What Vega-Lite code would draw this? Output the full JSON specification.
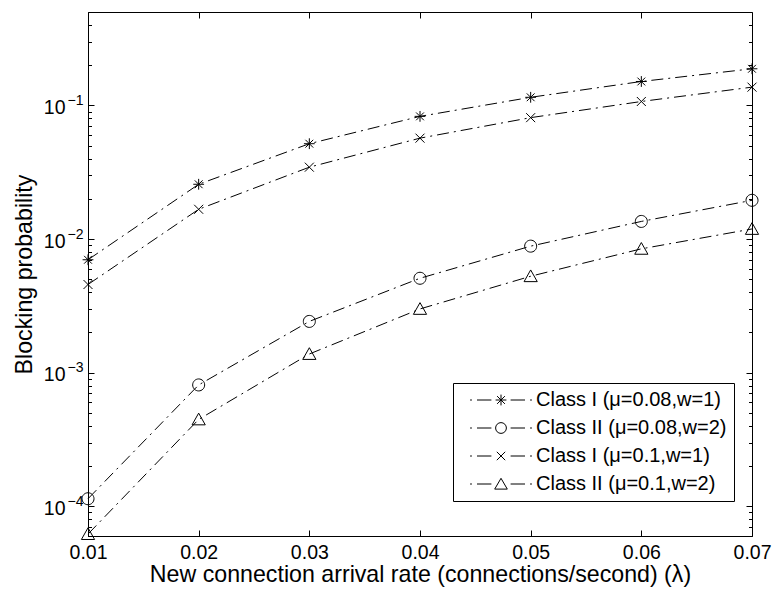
{
  "$schema": "https://vega.github.io/schema/vega-lite/v6.json",
  "width": 664,
  "height": 524,
  "autosize": {"type": "none"},
  "padding": {"left": 88, "top": 12, "right": 22, "bottom": 60},
  "background": "white",
  "config": {
    "view": {"stroke": "black", "strokeWidth": 1},
    "font": "Liberation Sans",
    "axis": {
      "grid": false,
      "domainColor": "black",
      "domainWidth": 1,
      "tickColor": "black",
      "tickWidth": 1,
      "labelColor": "black",
      "titleColor": "black",
      "labelFont": "Liberation Sans",
      "titleFont": "Liberation Sans",
      "titleFontWeight": "normal",
      "labelFontSize": 19.5,
      "titleFontSize": 23.2
    }
  },
  "datasets": {
    "curves": [
      {"rate": 0.01, "prob": 0.0070, "series": "Class I (μ=0.08,w=1)"},
      {"rate": 0.02, "prob": 0.0257, "series": "Class I (μ=0.08,w=1)"},
      {"rate": 0.03, "prob": 0.0517, "series": "Class I (μ=0.08,w=1)"},
      {"rate": 0.04, "prob": 0.0828, "series": "Class I (μ=0.08,w=1)"},
      {"rate": 0.05, "prob": 0.115, "series": "Class I (μ=0.08,w=1)"},
      {"rate": 0.06, "prob": 0.151, "series": "Class I (μ=0.08,w=1)"},
      {"rate": 0.07, "prob": 0.188, "series": "Class I (μ=0.08,w=1)"},
      {"rate": 0.01, "prob": 0.000114, "series": "Class II (μ=0.08,w=2)"},
      {"rate": 0.02, "prob": 0.00081, "series": "Class II (μ=0.08,w=2)"},
      {"rate": 0.03, "prob": 0.00242, "series": "Class II (μ=0.08,w=2)"},
      {"rate": 0.04, "prob": 0.00509, "series": "Class II (μ=0.08,w=2)"},
      {"rate": 0.05, "prob": 0.00885, "series": "Class II (μ=0.08,w=2)"},
      {"rate": 0.06, "prob": 0.01355, "series": "Class II (μ=0.08,w=2)"},
      {"rate": 0.07, "prob": 0.0195, "series": "Class II (μ=0.08,w=2)"},
      {"rate": 0.01, "prob": 0.00457, "series": "Class I (μ=0.1,w=1)"},
      {"rate": 0.02, "prob": 0.0167, "series": "Class I (μ=0.1,w=1)"},
      {"rate": 0.03, "prob": 0.0345, "series": "Class I (μ=0.1,w=1)"},
      {"rate": 0.04, "prob": 0.0569, "series": "Class I (μ=0.1,w=1)"},
      {"rate": 0.05, "prob": 0.081, "series": "Class I (μ=0.1,w=1)"},
      {"rate": 0.06, "prob": 0.107, "series": "Class I (μ=0.1,w=1)"},
      {"rate": 0.07, "prob": 0.137, "series": "Class I (μ=0.1,w=1)"},
      {"rate": 0.01, "prob": 0.000062, "series": "Class II (μ=0.1,w=2)"},
      {"rate": 0.02, "prob": 0.000447, "series": "Class II (μ=0.1,w=2)"},
      {"rate": 0.03, "prob": 0.00138, "series": "Class II (μ=0.1,w=2)"},
      {"rate": 0.04, "prob": 0.0030, "series": "Class II (μ=0.1,w=2)"},
      {"rate": 0.05, "prob": 0.00527, "series": "Class II (μ=0.1,w=2)"},
      {"rate": 0.06, "prob": 0.00845, "series": "Class II (μ=0.1,w=2)"},
      {"rate": 0.07, "prob": 0.0119, "series": "Class II (μ=0.1,w=2)"}
    ]
  },
  "data": {"name": "curves"},
  "layer": [
    {
      "mark": {"type": "line", "color": "black", "strokeWidth": 1, "strokeDash": [12, 5, 2, 5]},
      "encoding": {
        "x": {
          "field": "rate",
          "type": "quantitative",
          "scale": {"domain": [0.01, 0.07], "nice": false, "zero": false},
          "axis": {
            "orient": "bottom",
            "values": [0.01, 0.02, 0.03, 0.04, 0.05, 0.06, 0.07],
            "format": ".2f",
            "tickSize": -6,
            "labelPadding": 13,
            "labelFlush": false,
            "labelOverlap": false,
            "title": "New connection arrival rate (connections/second) (λ)",
            "titlePadding": 2
          }
        },
        "y": {
          "field": "prob",
          "type": "quantitative",
          "scale": {"type": "log", "domain": [0.00006, 0.5], "nice": false},
          "axis": {
            "orient": "left",
            "values": [0.00007, 0.00008, 0.00009, 0.0001, 0.0002, 0.0003, 0.0004, 0.0005, 0.0006, 0.0007, 0.0008, 0.0009, 0.001, 0.002, 0.003, 0.004, 0.005, 0.006, 0.007, 0.008, 0.009, 0.01, 0.02, 0.03, 0.04, 0.05, 0.06, 0.07, 0.08, 0.09, 0.1, 0.2, 0.3, 0.4],
            "tickSize": {"condition": {"test": "abs(log(datum.value)/LN10 - round(log(datum.value)/LN10)) < 0.001", "value": -6}, "value": -3.5},
            "labelExpr": "abs(log(datum.value)/LN10 - round(log(datum.value)/LN10)) > 0.001 ? '' : '10'",
            "labelPadding": 29,
            "labelOffset": 2,
            "labelOverlap": false,
            "labelFlush": false,
            "title": "Blocking probability",
            "titlePadding": 7
          }
        },
        "detail": {"field": "series"}
      }
    },
    {
      "mark": {"type": "point", "filled": false, "stroke": "black", "strokeWidth": 1, "size": 144, "opacity": 1},
      "encoding": {
        "x": {"field": "rate", "type": "quantitative", "axis": null},
        "y": {
          "field": "prob",
          "type": "quantitative",
          "axis": {
            "orient": "left",
            "values": [0.0001, 0.001, 0.01, 0.1],
            "labelExpr": "'−' + format(-round(log(datum.value)/LN10), 'd')",
            "labelFontSize": 14,
            "labelPadding": 5,
            "labelOffset": -5,
            "labelOverlap": false,
            "labelFlush": false,
            "tickSize": 0,
            "tickOpacity": 0,
            "domain": false,
            "title": null
          }
        },
        "shape": {
          "field": "series",
          "type": "nominal",
          "scale": {
            "domain": ["Class I (μ=0.08,w=1)", "Class II (μ=0.08,w=2)", "Class I (μ=0.1,w=1)", "Class II (μ=0.1,w=2)"],
            "range": [
              "M-0.9,0H0.9M0,-0.9V0.9M-0.65,-0.65L0.65,0.65M-0.65,0.65L0.65,-0.65",
              "M1,0A1,1 0 1,1 -1,0A1,1 0 1,1 1,0",
              "M-0.75,-0.75L0.75,0.75M-0.75,0.75L0.75,-0.75",
              "M0,-1.05L-1.1,0.9L1.1,0.9Z"
            ]
          },
          "legend": null
        }
      }
    },
    {
      "mark": {"type": "point", "filled": false, "stroke": "black", "strokeWidth": 1, "size": 144, "opacity": 0},
      "encoding": {
        "x": {
          "field": "rate",
          "type": "quantitative",
          "axis": {"orient": "top", "values": [0.01, 0.02, 0.03, 0.04, 0.05, 0.06, 0.07], "labels": false, "domain": false, "tickSize": -6, "title": null}
        },
        "y": {
          "field": "prob",
          "type": "quantitative",
          "axis": {
            "orient": "right",
            "values": [0.00007, 0.00008, 0.00009, 0.0001, 0.0002, 0.0003, 0.0004, 0.0005, 0.0006, 0.0007, 0.0008, 0.0009, 0.001, 0.002, 0.003, 0.004, 0.005, 0.006, 0.007, 0.008, 0.009, 0.01, 0.02, 0.03, 0.04, 0.05, 0.06, 0.07, 0.08, 0.09, 0.1, 0.2, 0.3, 0.4],
            "tickSize": {"condition": {"test": "abs(log(datum.value)/LN10 - round(log(datum.value)/LN10)) < 0.001", "value": -6}, "value": -3.5},
            "labels": false,
            "domain": false,
            "title": null
          }
        },
        "shape": {
          "field": "series",
          "type": "nominal",
          "scale": {
            "domain": ["Class I (μ=0.08,w=1)", "Class II (μ=0.08,w=2)", "Class I (μ=0.1,w=1)", "Class II (μ=0.1,w=2)"],
            "range": [
              "M-5.15,0H-4.85M-4,0H-1.6M1.6,0H4M4.85,0H5.15M-0.9,0H0.9M0,-0.9V0.9M-0.65,-0.65L0.65,0.65M-0.65,0.65L0.65,-0.65",
              "M-5.15,0H-4.85M-4,0H-1.6M1.6,0H4M4.85,0H5.15M0.9,0A0.9,0.9 0 1,1 -0.9,0A0.9,0.9 0 1,1 0.9,0",
              "M-5.15,0H-4.85M-4,0H-1.6M1.6,0H4M4.85,0H5.15M-0.7,-0.7L0.7,0.7M-0.7,0.7L0.7,-0.7",
              "M-5.15,0H-4.85M-4,0H-1.6M1.6,0H4M4.85,0H5.15M0,-0.95L-1.05,0.85L1.05,0.85Z"
            ]
          },
          "legend": {
            "title": null,
            "orient": "none",
            "legendX": 365,
            "legendY": 371,
            "fillColor": "white",
            "strokeColor": "black",
            "padding": 7,
            "labelFont": "Liberation Sans",
            "labelFontSize": 20,
            "labelColor": "black",
            "labelLimit": 0,
            "symbolSize": 144,
            "symbolStrokeColor": "black",
            "symbolStrokeWidth": 1,
            "symbolFillColor": "transparent",
            "symbolOpacity": 1,
            "symbolOffset": 31,
            "labelOffset": 25,
            "rowPadding": 8
          }
        }
      }
    }
  ],
  "resolve": {
    "axis": {"x": "independent", "y": "independent"},
    "scale": {"shape": "independent"}
  }
}
